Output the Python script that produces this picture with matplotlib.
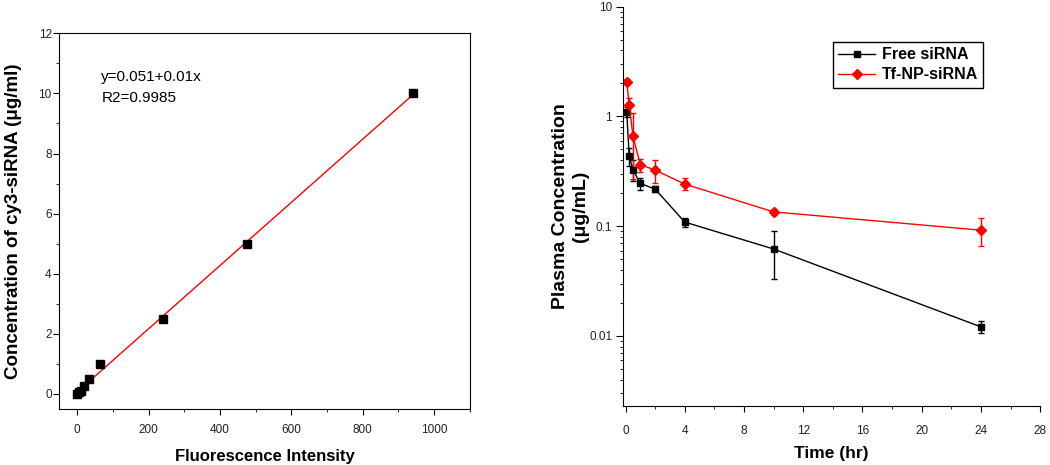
import numpy as np
import matplotlib
matplotlib.use('Agg')
import matplotlib.pyplot as plt
from matplotlib.ticker import MultipleLocator, LogLocator, NullFormatter, FixedLocator, FixedFormatter

plt.rcParams['font.family'] = ['Liberation Sans', 'DejaVu Sans']

# calibration curve
fluor = [0, 4, 10, 19, 34, 63, 241, 477, 940]
conc = [0, 0.05, 0.1, 0.25, 0.5, 1.0, 2.5, 5.0, 10.0]

# pharmacokinetics
time_hr = [0.083, 0.25, 0.5, 1, 2, 4, 10, 24]
free_sirna = [1.10, 0.435, 0.327, 0.245, 0.218, 0.109, 0.062, 0.0121]
free_err = [0.12, 0.08, 0.07, 0.03, 0.012, 0.011, 0.029, 0.0015]
tf_np_sirna = [2.08, 1.28, 0.667, 0.363, 0.325, 0.242, 0.135, 0.092]
tf_err = [0.1, 0.2, 0.4, 0.05, 0.075, 0.03, 0.008, 0.026]

fig = plt.figure(figsize=(10.5, 4.65), dpi=100)
tick_col = '#222222'

# ---- left panel
ax1 = fig.add_axes([0.0565, 0.1204, 0.391, 0.808])
slope, icpt = np.polyfit(fluor, conc, 1)
xs = np.array([0, max(fluor)])
ax1.plot(xs, icpt + slope * xs, color='#ff0000', lw=1)
ax1.plot(fluor, conc, 's', color='black', ms=5.5)
ax1.set_xlim(-50, 1100)
ax1.set_ylim(-0.5, 12)
ax1.xaxis.set_major_locator(MultipleLocator(200))
ax1.xaxis.set_minor_locator(MultipleLocator(100))
ax1.yaxis.set_major_locator(MultipleLocator(2))
ax1.yaxis.set_minor_locator(MultipleLocator(1))
ax1.tick_params(which='both', direction='out', labelsize=8.5, labelcolor=tick_col)
ax1.tick_params(which='major', length=4)
ax1.tick_params(which='minor', length=2.5)
ax1.tick_params(axis='x', pad=7)
ax1.tick_params(axis='y', pad=1.5)
ax1.set_xlabel('Fluorescence Intensity', fontsize=12, fontweight='bold', labelpad=9.5)
ax1.set_ylabel('Concentration of cy3-siRNA (\u03bcg/ml)', fontsize=13.5, fontweight='bold', labelpad=12)
ax1.text(68, 10.56, 'y=0.051+0.01x', fontsize=11, va='center')
ax1.text(68, 9.84, 'R2=0.9985', fontsize=11, va='center')

# ---- right panel
ax2 = fig.add_axes([0.5936, 0.1269, 0.397, 0.8587])
ax2.errorbar(time_hr, free_sirna, yerr=free_err, color='black', fmt='none',
             elinewidth=1, capsize=2.5)
ax2.errorbar(time_hr, tf_np_sirna, yerr=tf_err, color='#ff0000', fmt='none',
             elinewidth=1, capsize=2.5)
ax2.plot(time_hr, free_sirna, color='black', marker='s', ms=5, lw=1, label='Free siRNA')
ax2.plot(time_hr, tf_np_sirna, color='#ff0000', marker='D', ms=5, lw=1, label='Tf-NP-siRNA')
ax2.set_yscale('log')
ax2.set_ylim(0.0023, 10)
ax2.set_xlim(-0.15, 28)
ax2.xaxis.set_major_locator(MultipleLocator(4))
ax2.xaxis.set_minor_locator(MultipleLocator(2))
ax2.yaxis.set_major_locator(FixedLocator([0.01, 0.1, 1, 10]))
ax2.yaxis.set_major_formatter(FixedFormatter(['0.01', '0.1', '1', '10']))
ax2.yaxis.set_minor_locator(LogLocator(base=10, subs=np.arange(2, 10)))
ax2.yaxis.set_minor_formatter(NullFormatter())
ax2.spines['top'].set_visible(False)
ax2.spines['right'].set_visible(False)
ax2.tick_params(which='both', direction='out', labelsize=8.5, labelcolor=tick_col)
ax2.tick_params(which='major', length=4)
ax2.tick_params(which='minor', length=2.5)
ax2.tick_params(axis='y', which='major', length=5, pad=3)
ax2.tick_params(axis='x', pad=9.5)
ax2.set_xlabel('Time (hr)', fontsize=12.5, fontweight='bold', labelpad=7)
ax2.set_ylabel('Plasma Concentration\n(\u03bcg/mL)', fontsize=14, fontweight='bold', labelpad=0)
leg = ax2.legend(loc='upper right', bbox_to_anchor=(0.864, 0.912), fancybox=False,
                 edgecolor='black', framealpha=1, prop={'weight': 'bold', 'size': 11.5},
                 handlelength=2.3, handletextpad=0.4, borderaxespad=0,
                 borderpad=0.35, labelspacing=0.3)
leg.get_frame().set_linewidth(1)

fig.savefig('out.png', dpi=100)
